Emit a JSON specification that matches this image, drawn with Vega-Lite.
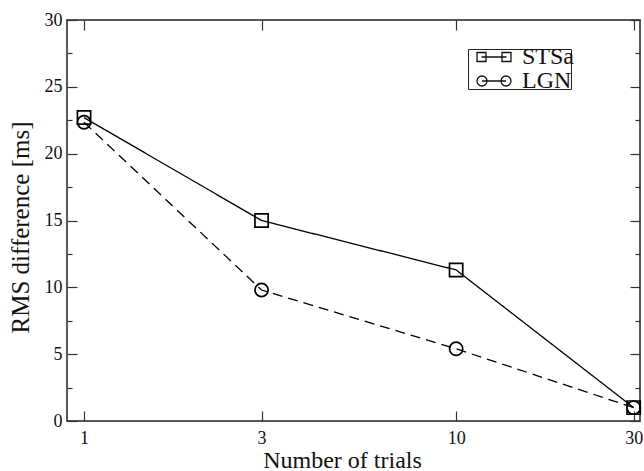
{
  "$schema": "https://vega.github.io/schema/vega-lite/v6.json",
  "autosize": {"type": "none"},
  "padding": {"left": 67, "top": 20, "right": 4, "bottom": 50},
  "width": 573,
  "height": 401,
  "background": "white",
  "config": {
    "view": {"stroke": "#222", "strokeWidth": 1.5},
    "font": "Liberation Serif",
    "axis": {"grid": false, "domain": false, "labelFont": "Liberation Serif", "titleFont": "Liberation Serif", "labelColor": "#111", "titleColor": "#111", "tickColor": "#333", "tickWidth": 1.2, "titleFontWeight": "normal"},
    "legend": {"labelFont": "Liberation Serif"}
  },
  "data": {
    "values": [
      {"trials": 1, "rms": 22.7, "series": "STSa"},
      {"trials": 3, "rms": 15.0, "series": "STSa"},
      {"trials": 10, "rms": 11.3, "series": "STSa"},
      {"trials": 30, "rms": 1.0, "series": "STSa"},
      {"trials": 1, "rms": 22.35, "series": "LGN"},
      {"trials": 3, "rms": 9.8, "series": "LGN"},
      {"trials": 10, "rms": 5.4, "series": "LGN"},
      {"trials": 30, "rms": 1.0, "series": "LGN"}
    ]
  },
  "resolve": {"axis": {"x": "independent", "y": "independent"}, "scale": {"shape": "independent"}},
  "layer": [
    {
      "mark": {"type": "line", "color": "black", "strokeWidth": 1.3},
      "encoding": {
        "x": {"field": "trials", "type": "quantitative", "scale": {"type": "log", "domain": [0.9, 31.2], "nice": false},
          "axis": {"orient": "bottom", "values": [1, 3, 10, 30], "ticks": false, "labelFontSize": 18, "labelBaseline": "alphabetic", "labelPadding": 22, "title": "Number of trials", "titleFontSize": 24, "titleBaseline": "alphabetic", "titleY": 46, "titleX": 275}},
        "y": {"field": "rms", "type": "quantitative", "scale": {"domain": [0, 30], "nice": false},
          "axis": {"orient": "left", "values": [0, 5, 10, 15, 20, 25, 30], "ticks": false, "labelFontSize": 18, "labelPadding": 5, "title": "RMS difference [ms]", "titleFontSize": 25, "titleBaseline": "alphabetic", "titleX": -39, "titleY": 207}},
        "strokeDash": {"field": "series", "type": "nominal", "scale": {"domain": ["LGN", "STSa"], "range": [[10, 6], [1, 0]]}, "legend": null}
      }
    },
    {
      "mark": {"type": "point", "filled": false, "color": "black", "strokeWidth": 1.7, "size": 175, "opacity": 1},
      "encoding": {
        "x": {"field": "trials", "type": "quantitative", "axis": {"orient": "bottom", "values": [1, 3, 10, 30], "tickSize": -10, "labels": false, "title": null}},
        "y": {"field": "rms", "type": "quantitative", "axis": {"orient": "left", "values": [0, 5, 10, 15, 20, 25, 30], "tickSize": -10, "labels": false, "title": null}},
        "shape": {"field": "series", "type": "nominal", "scale": {"domain": ["LGN", "STSa"], "range": ["circle", "square"]}, "legend": null}
      }
    },
    {
      "mark": {"type": "point", "filled": false, "color": "black", "strokeWidth": 1.3, "opacity": 0},
      "encoding": {
        "x": {"field": "trials", "type": "quantitative", "axis": {"orient": "top", "values": [1, 3, 10, 30], "tickSize": -10, "labels": false, "title": null}},
        "y": {"field": "rms", "type": "quantitative", "axis": {"orient": "left", "values": [2.5, 7.5, 12.5, 17.5, 22.5, 27.5], "tickSize": -5, "labels": false, "title": null}},
        "shape": {"field": "series", "type": "nominal",
          "scale": {"domain": ["STSa", "LGN"], "range": ["M0.1,-0.45H1V0.45H0.1Z M0.55,0H3.05 M2.6,-0.45H3.5V0.45H2.6Z", "M0.1,0A0.5,0.5 0 1,0 1.1,0A0.5,0.5 0 1,0 0.1,0Z M0.6,0H3 M2.5,0A0.5,0.5 0 1,0 3.5,0A0.5,0.5 0 1,0 2.5,0Z"]},
          "legend": {"orient": "none", "legendX": 401, "legendY": 29, "title": null, "strokeColor": "#222", "padding": -4, "labelFont": "Liberation Serif", "labelFontSize": 24, "labelColor": "#111", "symbolSize": 400, "symbolOpacity": 1, "symbolStrokeColor": "#111", "symbolFillColor": "transparent", "symbolStrokeWidth": 1.3, "rowPadding": -7, "labelOffset": 34, "labelExpr": "datum.label + '\u00a0\u00a0'",
            "encode": {"labels": {"update": {"fontSize": {"value": 24}}}}}}
      }
    },
    {
      "mark": {"type": "point", "opacity": 0},
      "encoding": {
        "x": {"field": "trials", "type": "quantitative", "axis": null},
        "y": {"field": "rms", "type": "quantitative", "axis": {"orient": "right", "values": [0, 5, 10, 15, 20, 25, 30], "tickSize": -10, "labels": false, "title": null}}
      }
    },
    {
      "mark": {"type": "point", "opacity": 0},
      "encoding": {
        "x": {"field": "trials", "type": "quantitative", "axis": null},
        "y": {"field": "rms", "type": "quantitative", "axis": {"orient": "right", "values": [2.5, 7.5, 12.5, 17.5, 22.5, 27.5], "tickSize": -5, "labels": false, "title": null}}
      }
    }
  ]
}
